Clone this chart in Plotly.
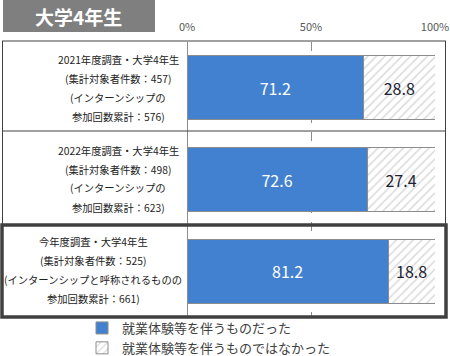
import plotly.graph_objects as go

categories = ["r2021", "r2022", "r2024"]
label_lines = [
    ["2021年度調査・大学4年生", "(集計対象者件数：457)", "(インターンシップの", "参加回数累計：576)"],
    ["2022年度調査・大学4年生", "(集計対象者件数：498)", "(インターンシップの", "参加回数累計：623)"],
    ["今年度調査・大学4年生", "(集計対象者件数：525)", "(インターンシップと呼称されるものの", "参加回数累計：661)"],
]
with_exp = [71.2, 72.6, 81.2]
without_exp = [28.8, 27.4, 18.8]
series_names = ["就業体験等を伴うものだった", "就業体験等を伴うものではなかった"]
tick_vals = [0, 50, 100]
tick_text = ["0%", "50%", "100%"]
title_text = "大学4年生"

W, H = 450, 356
FONT = "Noto Sans CJK JP, Noto Sans, sans-serif"

def py(p):
    return 1 - p / H

def px(p):
    return p / W

fig = go.Figure()
fig.add_trace(go.Bar(
    y=categories, x=with_exp, orientation="h", name=series_names[0],
    marker=dict(color="#4281D0", line=dict(color="#8c8c8c", width=1)),
    text=[f"{v:.1f}" for v in with_exp], textposition="inside",
    insidetextanchor="middle", textfont=dict(color="white", size=16, family=FONT),
    width=0.7,
))
fig.add_trace(go.Bar(
    y=categories, x=without_exp, orientation="h", name=series_names[1],
    marker=dict(color="white", line=dict(color="#8c8c8c", width=1),
                pattern=dict(shape="/", fgcolor="#b4b4b4", bgcolor="white", size=6, solidity=0.25)),
    text=[f"{v:.1f}" for v in without_exp], textposition="inside",
    insidetextanchor="middle", textfont=dict(color="#222233", size=16, family=FONT),
    width=0.7,
))

top, bottom = 42, 317
fig.update_layout(
    width=W, height=H, barmode="stack",
    margin=dict(l=0, r=0, t=0, b=0, autoexpand=False),
    paper_bgcolor="white", plot_bgcolor="white",
    font=dict(family=FONT, color="#404040"),
    xaxis=dict(domain=[px(187), px(435)], range=[0, 100], side="top",
               tickvals=tick_vals, ticktext=tick_text, showgrid=True,
               gridcolor="#8c8c8c", griddash="dash", gridwidth=1,
               zeroline=True, zerolinecolor="#8c8c8c", zerolinewidth=1,
               showline=False, tickfont=dict(size=11, color="#595959"),
               ticklabelstandoff=8, fixedrange=True, automargin=False),
    yaxis=dict(domain=[py(bottom), py(top)], categoryorder="array",
               categoryarray=categories[::-1], showticklabels=False,
               showgrid=False, zeroline=False, fixedrange=True, automargin=False),
    legend=dict(x=px(82), y=py(313), xanchor="left", yanchor="top",
                font=dict(size=13, color="#404040", family=FONT),
                traceorder="normal", tracegroupgap=0, itemwidth=30,
                bgcolor="rgba(0,0,0,0)"),
    showlegend=True,
)

shapes = []
shapes.append(dict(type="rect", xref="paper", yref="paper", x0=px(3), x1=px(155),
                   y0=py(32), y1=py(0), fillcolor="#7f7f7f", line=dict(width=0), layer="below"))
line_c = "#404040"
shapes.append(dict(type="line", xref="paper", yref="paper", x0=px(2), x1=px(446), y0=py(41), y1=py(41), line=dict(color=line_c, width=1)))
shapes.append(dict(type="line", xref="paper", yref="paper", x0=px(2), x1=px(446), y0=py(131), y1=py(131), line=dict(color=line_c, width=1)))
shapes.append(dict(type="line", xref="paper", yref="paper", x0=px(2.5), x1=px(2.5), y0=py(41), y1=py(225), line=dict(color=line_c, width=1)))
shapes.append(dict(type="line", xref="paper", yref="paper", x0=px(445.5), x1=px(445.5), y0=py(41), y1=py(225), line=dict(color=line_c, width=1)))
shapes.append(dict(type="rect", xref="paper", yref="paper", x0=px(2), x1=px(446), y0=py(317), y1=py(225),
                   line=dict(color=line_c, width=3.5), fillcolor="rgba(0,0,0,0)"))
fig.update_layout(shapes=shapes)

annotations = [dict(text=f"<b>{title_text}</b>", xref="paper", yref="paper", x=px(78), y=py(16),
                    xanchor="center", yanchor="middle",
                    showarrow=False, font=dict(size=19, color="white", family=FONT))]
centers = [118, 118, 93]
row_tops = [59, 150, 241]
for i, lines in enumerate(label_lines):
    for j, ln in enumerate(lines):
        annotations.append(dict(text=ln, xref="paper", yref="paper", x=px(centers[i]),
                                y=py(row_tops[i] + j * 19), xanchor="center", yanchor="middle",
                                showarrow=False, font=dict(size=10.3, color="#222222", family=FONT)))
fig.update_layout(annotations=annotations)

fig.write_html("out.html", config={"displayModeBar": False},
               post_script="document.body.style.margin='0';document.body.style.overflow='hidden';")
